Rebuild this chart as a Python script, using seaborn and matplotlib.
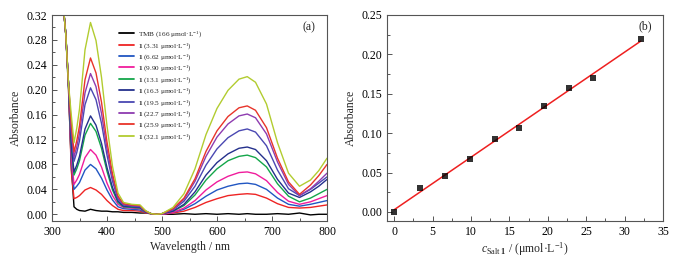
import numpy as np
import pandas as pd
import matplotlib
matplotlib.use("Agg")
import matplotlib.pyplot as plt
from matplotlib.ticker import MultipleLocator
import seaborn as sns

# ---------------------------------------------------------
# data
# ---------------------------------------------------------
wavelength = [318, 325, 330, 335, 340, 345, 350, 360, 370, 380, 390, 400, 410, 420,
              430, 445, 460, 470, 480, 490, 500, 520, 540, 560, 580, 600, 620, 640,
              655, 670, 690, 710, 730, 750, 770, 785, 800]

tmb = [0.36, 0.29, 0.20, 0.08, 0.012, 0.008, 0.006, 0.005, 0.008, 0.006, 0.005, 0.005, 0.004, 0.004,
       0.003, 0.003, 0.002, 0.002, 0.001, 0.000, 0.000, 0.000, 0.001, 0.000, 0.001, 0.000, 0.001, 0.000,
       0.001, 0.000, 0.000, 0.001, 0.000, 0.002, -0.001, 0.000, 0.000]
c331 = [0.36, 0.29, 0.21, 0.070, 0.025, 0.027, 0.030, 0.039, 0.043, 0.039, 0.032, 0.022, 0.014, 0.008,
        0.006, 0.006, 0.005, 0.002, 0.001, 0.000, 0.000, 0.002, 0.005, 0.011, 0.019, 0.025, 0.030, 0.032,
        0.033, 0.032, 0.026, 0.017, 0.011, 0.010, 0.011, 0.013, 0.015]
c662 = [0.36, 0.29, 0.21, 0.085, 0.040, 0.045, 0.051, 0.071, 0.080, 0.073, 0.058, 0.039, 0.023, 0.012,
        0.009, 0.008, 0.007, 0.003, 0.001, 0.000, 0.000, 0.003, 0.008, 0.017, 0.029, 0.039, 0.045, 0.049,
        0.050, 0.048, 0.040, 0.026, 0.016, 0.013, 0.016, 0.019, 0.022]
c990 = [0.36, 0.29, 0.21, 0.093, 0.048, 0.055, 0.064, 0.091, 0.104, 0.095, 0.076, 0.050, 0.030, 0.016,
        0.011, 0.010, 0.009, 0.004, 0.001, 0.000, 0.000, 0.003, 0.010, 0.022, 0.039, 0.052, 0.061, 0.067,
        0.068, 0.065, 0.054, 0.035, 0.021, 0.016, 0.020, 0.025, 0.030]
c131 = [0.36, 0.29, 0.21, 0.108, 0.063, 0.073, 0.086, 0.127, 0.146, 0.133, 0.106, 0.069, 0.039, 0.019,
        0.012, 0.011, 0.010, 0.004, 0.001, 0.000, 0.001, 0.005, 0.014, 0.031, 0.055, 0.073, 0.086, 0.093,
        0.095, 0.091, 0.076, 0.049, 0.029, 0.020, 0.026, 0.033, 0.040]
c163 = [0.36, 0.29, 0.21, 0.113, 0.068, 0.079, 0.093, 0.137, 0.158, 0.143, 0.114, 0.075, 0.043, 0.021,
        0.013, 0.012, 0.011, 0.004, 0.001, 0.000, 0.001, 0.005, 0.016, 0.036, 0.063, 0.083, 0.097, 0.106,
        0.108, 0.104, 0.086, 0.056, 0.034, 0.027, 0.036, 0.045, 0.056]
c195 = [0.36, 0.29, 0.21, 0.130, 0.085, 0.099, 0.118, 0.176, 0.203, 0.184, 0.146, 0.095, 0.053, 0.024,
        0.015, 0.013, 0.012, 0.005, 0.001, 0.000, 0.001, 0.007, 0.021, 0.045, 0.079, 0.105, 0.123, 0.134,
        0.137, 0.132, 0.110, 0.071, 0.041, 0.030, 0.040, 0.050, 0.060]
c227 = [0.36, 0.29, 0.21, 0.137, 0.092, 0.108, 0.130, 0.195, 0.226, 0.205, 0.162, 0.105, 0.059, 0.027,
        0.016, 0.014, 0.013, 0.005, 0.001, 0.000, 0.001, 0.008, 0.024, 0.053, 0.093, 0.124, 0.145, 0.158,
        0.161, 0.155, 0.129, 0.084, 0.048, 0.030, 0.041, 0.053, 0.066]
c259 = [0.36, 0.29, 0.21, 0.145, 0.100, 0.118, 0.142, 0.216, 0.251, 0.227, 0.180, 0.116, 0.065, 0.029,
        0.017, 0.015, 0.014, 0.005, 0.001, 0.000, 0.001, 0.009, 0.026, 0.057, 0.101, 0.134, 0.157, 0.171,
        0.174, 0.167, 0.139, 0.090, 0.052, 0.032, 0.047, 0.062, 0.080]
c321 = [0.36, 0.29, 0.21, 0.160, 0.115, 0.138, 0.169, 0.264, 0.308, 0.279, 0.220, 0.142, 0.077, 0.034,
        0.019, 0.016, 0.015, 0.006, 0.001, 0.000, 0.001, 0.011, 0.033, 0.073, 0.128, 0.170, 0.199, 0.217,
        0.221, 0.212, 0.177, 0.115, 0.066, 0.045, 0.055, 0.070, 0.090]

series_labels = [
    "TMB (166 μmol·L$^{-1}$)",
    r"$\mathbf{1}$ (3.31 μmol·L$^{-1}$)",
    r"$\mathbf{1}$ (6.62 μmol·L$^{-1}$)",
    r"$\mathbf{1}$ (9.90 μmol·L$^{-1}$)",
    r"$\mathbf{1}$ (13.1 μmol·L$^{-1}$)",
    r"$\mathbf{1}$ (16.3 μmol·L$^{-1}$)",
    r"$\mathbf{1}$ (19.5 μmol·L$^{-1}$)",
    r"$\mathbf{1}$ (22.7 μmol·L$^{-1}$)",
    r"$\mathbf{1}$ (25.9 μmol·L$^{-1}$)",
    r"$\mathbf{1}$ (32.1 μmol·L$^{-1}$)",
]
series_values = [tmb, c331, c662, c990, c131, c163, c195, c227, c259, c321]
series_colors = ["#000000", "#ee2424", "#2156c2", "#f01c9c", "#14a64a",
                 "#24308c", "#4a48b2", "#8e3cb0", "#e8342a", "#b2cc30"]

# panel (b): absorbance vs concentration
conc = [0, 3.31, 6.62, 9.90, 13.1, 16.3, 19.5, 22.7, 25.9, 32.1]
absorb = [0.000, 0.031, 0.046, 0.067, 0.093, 0.107, 0.134, 0.157, 0.170, 0.220]

# ---------------------------------------------------------
# style
# ---------------------------------------------------------
sns.set_style("ticks")
plt.rcParams['font.family'] = ['Liberation Serif', 'DejaVu Serif']
plt.rcParams['mathtext.fontset'] = 'custom'
plt.rcParams['mathtext.rm'] = 'Liberation Serif'
plt.rcParams['mathtext.it'] = 'Liberation Serif:italic'
plt.rcParams['mathtext.bf'] = 'Liberation Serif:bold'

spine_col = "#555555"

df = pd.DataFrame({
    "wavelength": np.tile(wavelength, len(series_values)),
    "absorbance": np.concatenate(series_values),
    "series": np.repeat(series_labels, len(wavelength)),
})
df_b = pd.DataFrame({"conc": conc, "absorbance": absorb})

fig = plt.figure(figsize=(6.78, 2.6), dpi=100)
ax1 = fig.add_axes([52 / 678, 39 / 260, 275 / 678, 206 / 260])
ax2 = fig.add_axes([387 / 678, 39 / 260, 276 / 678, 206 / 260])


def style_axes(ax):
    for sp in ax.spines.values():
        sp.set_color(spine_col)
        sp.set_linewidth(0.8)
    ax.tick_params(which='both', direction='in', top=False, right=False,
                   colors=spine_col, labelcolor='black', labelsize=8.5, width=0.7)
    ax.tick_params(which='major', length=3.5)
    ax.tick_params(which='minor', length=2)


# ---- panel (a)
sns.lineplot(data=df, x="wavelength", y="absorbance", hue="series",
             hue_order=series_labels, palette=series_colors,
             linewidth=1.0, ax=ax1, legend=True)
ax1.set_xlim(300, 800)
ax1.set_ylim(-0.0108, 0.32)
ax1.xaxis.set_major_locator(MultipleLocator(100))
ax1.xaxis.set_minor_locator(MultipleLocator(50))
ax1.yaxis.set_major_locator(MultipleLocator(0.04))
ax1.yaxis.set_minor_locator(MultipleLocator(0.02))
ax1.yaxis.set_major_formatter(plt.FormatStrFormatter('%.2f'))
ax1.set_xlabel("Wavelength / nm", fontsize=8.5, labelpad=2)
ax1.set_ylabel("Absorbance", fontsize=8.5, labelpad=3)
style_axes(ax1)
leg = ax1.legend(loc='upper left', bbox_to_anchor=(0.2436, 0.93), frameon=False,
                 fontsize=5.2, handlelength=2.1, handletextpad=0.5,
                 labelspacing=0.2, borderpad=0, borderaxespad=0)
for h in leg.get_lines():
    h.set_linewidth(1.3)
ax1.text(0.935, 0.942, "(a)", transform=ax1.transAxes, fontsize=8.5,
         ha='center', va='center')

# ---- panel (b)
sns.regplot(data=df_b, x="conc", y="absorbance", ci=None, marker='s',
            scatter_kws={'s': 15, 'color': 'black', 'zorder': 3, 'linewidths': 0},
            line_kws={'color': '#ee2020', 'linewidth': 1.1}, ax=ax2)
ax2.set_xlim(-0.95, 35)
ax2.set_ylim(-0.0115, 0.25)
ax2.xaxis.set_major_locator(MultipleLocator(5))
ax2.xaxis.set_minor_locator(MultipleLocator(2.5))
ax2.yaxis.set_major_locator(MultipleLocator(0.05))
ax2.yaxis.set_minor_locator(MultipleLocator(0.025))
ax2.yaxis.set_major_formatter(plt.FormatStrFormatter('%.2f'))
ax2.set_xlabel(r"$c_{\mathrm{Salt}\ \mathbf{1}}$ / (μmol·L$^{-1}$)", fontsize=8.5, labelpad=2)
ax2.set_ylabel("Absorbance", fontsize=8.5, labelpad=3)
style_axes(ax2)
ax2.text(0.935, 0.947, "(b)", transform=ax2.transAxes, fontsize=8.5,
         ha='center', va='center')

fig.savefig("out.png", dpi=100)
plt.close(fig)
